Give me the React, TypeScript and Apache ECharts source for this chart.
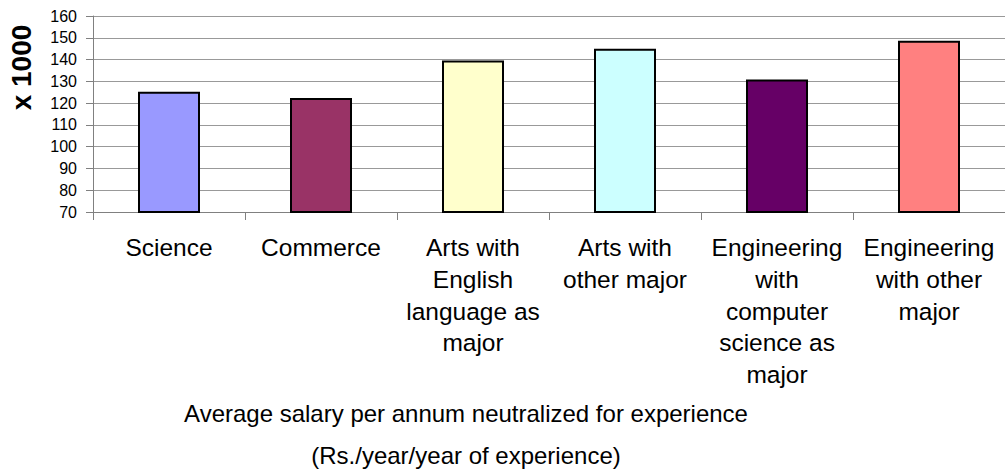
import React, { useEffect, useRef } from "react";
import * as echarts from "echarts";

const categories = [
  "Science",
  "Commerce",
  "Arts with\nEnglish\nlanguage as\nmajor",
  "Arts with\nother major",
  "Engineering\nwith\ncomputer\nscience as\nmajor",
  "Engineering\nwith other\nmajor",
];
const salaries = [125.2, 122.3, 139.6, 145, 130.8, 148.6];
const barColors = ["#9999FF", "#993366", "#FFFFCC", "#CCFFFF", "#660066", "#FF8080"];
const yTicks = { min: 70, max: 160, interval: 10 };
const yAxisTitle = "x 1000";
const xTitleLines = [
  "Average salary per annum neutralized for experience",
  "(Rs./year/year of experience)",
];

const FONT = "'Liberation Sans', Arial, sans-serif";

export default function App() {
  const ref = useRef<HTMLDivElement>(null);
  useEffect(() => {
    if (!ref.current) return;
    const chart = echarts.init(ref.current, null, { renderer: "svg" });
    chart.setOption({
      animation: false,
      backgroundColor: "#fff",
      textStyle: { fontFamily: FONT },
      grid: { left: 93, top: 16, bottom: 259, right: -7.5, containLabel: false },
      xAxis: {
        type: "category",
        data: categories,
        axisLine: { show: true, lineStyle: { color: "#808080", width: 1 } },
        axisTick: { show: true, length: 8, lineStyle: { color: "#808080" } },
        axisLabel: {
          interval: 0,
          margin: 20,
          fontSize: 24.5,
          lineHeight: 31.7,
          color: "#000",
          fontFamily: FONT,
          align: "center",
        },
        splitLine: { show: false },
      },
      yAxis: {
        type: "value",
        min: yTicks.min,
        max: yTicks.max,
        interval: yTicks.interval,
        axisLine: { show: true, lineStyle: { color: "#808080", width: 1 } },
        axisTick: { show: true, length: 7, lineStyle: { color: "#808080" } },
        axisLabel: { margin: 16, fontSize: 16, color: "#000", fontFamily: FONT },
        splitLine: { show: true, lineStyle: { color: "#999", width: 1 } },
      },
      series: [
        {
          type: "bar",
          barWidth: 62,
          data: salaries.map((v, i) => ({
            value: v,
            itemStyle: { color: barColors[i], borderColor: "#000", borderWidth: 2 },
          })),
        },
      ],
      graphic: [
        {
          type: "text",
          x: 21.5,
          y: 67.5,
          rotation: Math.PI / 2,
          style: {
            text: yAxisTitle,
            fontSize: 28,
            fontWeight: "bold",
            fontFamily: FONT,
            fill: "#000",
            textAlign: "center",
            textVerticalAlign: "middle",
          },
        },
        {
          type: "text",
          x: 466,
          y: 413,
          style: {
            text: xTitleLines[0],
            fontSize: 24,
            fontFamily: FONT,
            fill: "#000",
            textAlign: "center",
            textVerticalAlign: "middle",
          },
        },
        {
          type: "text",
          x: 466,
          y: 455.5,
          style: {
            text: xTitleLines[1],
            fontSize: 24,
            fontFamily: FONT,
            fill: "#000",
            textAlign: "center",
            textVerticalAlign: "middle",
          },
        },
      ],
    });
    return () => chart.dispose();
  }, []);
  return (
    <div
      ref={ref}
      style={{ position: "absolute", left: 0, top: 0, width: 1005, height: 471 }}
    />
  );
}
